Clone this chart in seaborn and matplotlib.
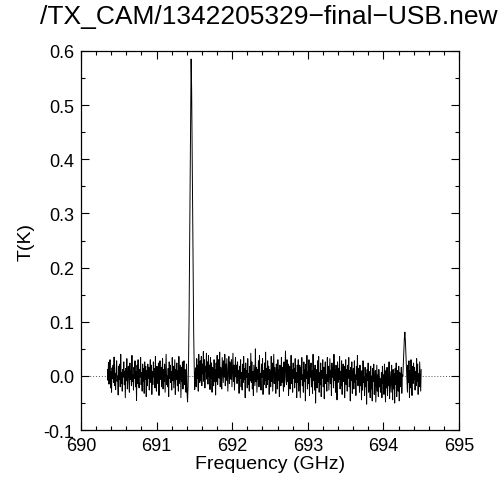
import numpy as np
import pandas as pd
import matplotlib
matplotlib.use("Agg")
import matplotlib.pyplot as plt
from matplotlib.ticker import MultipleLocator, FormatStrFormatter
import seaborn as sns

title = "/TX_CAM/1342205329\u2212final\u2212USB.new"
freq_start = 690.35   # GHz, first channel
freq_stop = 694.50    # GHz, last channel

# antenna temperature per channel, in mK
seg_a = [12, -8, 25, -15, 3, 30, -22, 8, -30, 15,
         -5, 20, -12, 35, -18, 5, -25, 10, 28, -10,
         0, -35, 18, -6, 22, -20, 40, -14, 6, -28,
         12, -2, 26, -16, 9, -40, 14, -8, 32, -24,
         4, 18, -12, -30, 24, -6, 10, -18, 38, -10,
         2, -26, 16, -4, 28, -20, 8, -45, 20, -14,
         30, -8, -22, 12, -2, 34, -16, 6, -28, 22,
         -10, 14, -32, 26, -6, 18, -38, 10,
         -18, 22, -4, 16, -26, 6, 30, -12, 20, -34,
         8, -16, 26, -2, 14, -22, 36, -8, -28, 18,
         4, -14, 24, -36, 10, 28, -6, 16, -20, 2,
         32, -24, 12, -10, 22, -30, 6, 40, -16, 0,
         -20, 14, -38, 26, -4, 20, -12, 8, -26, 34,
         -8, 18, -22, 4, 30, -34, 12, -6, 24, -18,
         10, -28, 36, -14, 2, 20, -40, 16, -10, 26,
         -24, 6, 28, -16, 12, -4, -30, 22]
main_line = [-30, -48, -20, 30, 110, 220, 350, 480, 585, 530,
             420, 300, 180, 80, 20, -25, 5]
seg_b1 = [15, -20, 32, -5, 20, -28, 40, 2, -12, 28,
          -8, 36, -18, 22, 4, 45, -10, 30, -22, 18,
          8, 42, -6, 26, -15, 38, 0, 20, -25, 34,
          -4, 24, -30, 16, 6, -18, 30, -10, 12, -35,
          24, -10, 38, -16, 12, 30, -4, 44, -20, 16,
          6, -24, 34, 10, -12, 28, -2, 40, -18, 22,
          -8, 32, 2, -28, 18, 36, -14, 26, 4, -6,
          30, -20, 14, 42, -10, 20, -26, 8, 34, -2]
seg_b2 = [20, -14, 26, -8, 10, -32, 18, -4, 30, -20,
          6, -26, 22, -12, 36, -6, 14, -40, 24, -2,
          10, -22, 32, -16, 4, -28, 18, -8, 42, -12,
          26, -24, 8, -36, 20, 0, -18, 50, -10, 16,
          -30, 12, -6, 28, -20, 38, -14, 4, -26, 22,
          -2, 32, -34, 10, -16, 24, -8, 44, -22, 14,
          -16, 28, -6, 18, -34, 12, 2, -20, 36, -10,
          24, -28, 8, 40, -14, 16, -4, -32, 22, 6,
          -24, 30, -8, 12, -38, 20, 4, -18, 34, -12,
          16, -2, -28, 26, -20, 10, 46, -6, -16, 30,
          -10, 22, -36, 8, 18, -24, 2, 38, -14, 12,
          -30, 24, -4, 14, -22, 32, -12, 6, -40, 20]
seg_b3 = [-12, 30, -28, 6, 20, -40, 16, -6, 34, -18,
          2, -30, 26, -10, 12, -46, 22, -4, 38, -24,
          8, -14, 30, -36, 18, -2, 24, -20, 10, -32,
          40, -8, 14, -26, 20, -50, 12, 4, -22, 28,
          -12, 36, -30, 6, -16, 24, -38, 10, -4, 30,
          -20, 16, -42, 8, 26, -14, 2, -28, 34, -10,
          18, -26, 4, 32, -14, 10, -36, 24, -2, 16,
          -22, 40, -8, 12, -30, 20, 0, -44, 26, -12,
          14, -6, 36, -24, 8, -18, 28, -34, 6, 22,
          -10, 18, -40, 2, 30, -16, 12, -28, 20, -4,
          34, -20, 10, -46, 16, -8, 26, -32, 4, 14,
          -24, 28, -12, 2, -36, 18, -6, 38, -18, 8]
seg_b4 = [14, -30, 20, -18, 6, -44, 10, -26, 28, -12,
          -2, -36, 16, -20, 4, -52, 12, -8, 24, -30,
          -14, 8, -40, 18, -24, 0, -46, 14, -10, 22,
          -34, -6, 10, -48, -16, 20, -28, 2, -38, 12,
          -20, -4, -30,
          -26, 6, -40, 18, -14, 2, -34, 22, -8, -48,
          10, -22, 16, -36, 0, -18, 26, -42, 8, -12,
          -30, 20, -6, -44, 12, -24, 4, -50, 14, -16,
          24, -38, -2, 10, -28, 18, -46, 6, -20, -8,
          16, -32, 2]
small_line = [0, 25, 50, 70, 81, 65, 40, 15, -10]
seg_c = [-30, 20, -12, 28, -40, 10, -22, 30, -8, -36, 18, -14, 24, -6,
         16, -26, 8, -18, 32, -10, 22, -34, 4, -20, 26, -2, -28, 12]

temp_mK = seg_a + main_line + seg_b1 + seg_b2 + seg_b3 + seg_b4 + small_line + seg_c
T = np.array(temp_mK, dtype=float) / 1000.0
freq = np.linspace(freq_start, freq_stop, len(T))
df = pd.DataFrame({"freq": freq, "T": T})

sns.set_theme(style="ticks")
plt.rcParams["font.family"] = ["Liberation Sans", "DejaVu Sans"]
plt.rcParams["text.color"] = "black"
plt.rcParams["axes.labelcolor"] = "black"

fig = plt.figure(figsize=(5.0, 4.85), dpi=100)
ax = fig.add_axes([0.162, 0.111, 0.756, 0.782])

sns.lineplot(data=df, x="freq", y="T", ax=ax, color="black", lw=0.7,
             estimator=None, sort=False)
ax.axhline(0, color="#555555", lw=0.7, ls=(0, (1, 2)), zorder=0)

ax.set_xlim(690, 695)
ax.set_ylim(-0.1, 0.6)
ax.xaxis.set_major_locator(MultipleLocator(1))
ax.xaxis.set_minor_locator(MultipleLocator(0.2))
ax.yaxis.set_major_locator(MultipleLocator(0.1))
ax.yaxis.set_minor_locator(MultipleLocator(0.05))
ax.yaxis.set_major_formatter(FormatStrFormatter("%.1f"))
ax.tick_params(which="both", direction="in", top=True, right=True,
               labelsize=13, color="black", labelcolor="black", width=0.8)
ax.tick_params(which="major", length=6, pad=5)
ax.tick_params(which="minor", length=3)
for s in ax.spines.values():
    s.set_color("black")
    s.set_linewidth(0.9)

ax.set_xlabel("Frequency (GHz)", fontsize=14, labelpad=1)
ax.set_ylabel("T(K)", fontsize=14, labelpad=6)
fig.text(0.537, 0.965, title, ha="center", va="center", fontsize=19)

fig.savefig("out.png", dpi=100, facecolor="white")
